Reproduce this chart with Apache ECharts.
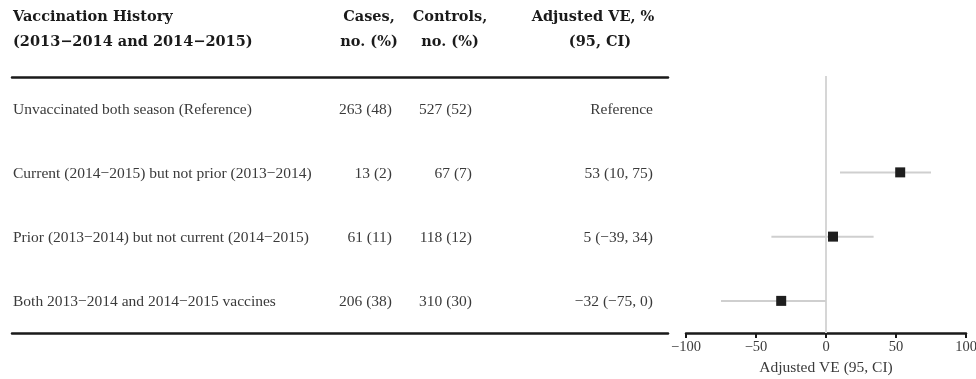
<!DOCTYPE html>
<html>
<head>
<meta charset="utf-8">
<script src="https://cdn.jsdelivr.net/npm/echarts@6/dist/echarts.min.js"></script>
<style>
  html, body { margin: 0; padding: 0; background: #fff; }
  #chart { width: 976px; height: 379px; }
</style>
</head>
<body>
<div id="chart"></div>
<script>
// Vaccination history groups (rows, top to bottom)
const groups = [
  'Unvaccinated both season (Reference)',
  'Current (2014\u22122015) but not prior (2013\u22122014)',
  'Prior (2013\u22122014) but not current (2014\u22122015)',
  'Both 2013\u22122014 and 2014\u22122015 vaccines'
];
const cases = [263, 13, 61, 206];
const casesPct = [48, 2, 11, 38];
const controls = [527, 67, 118, 310];
const controlsPct = [52, 7, 12, 30];
// Adjusted VE, % with 95% CI (null = reference group)
const ve = [null, 53, 5, -32];
const veLow = [null, 10, -39, -75];
const veHigh = [null, 75, 34, 0];
const xTicks = [-100, -50, 0, 50, 100];

const MINUS = '\u2212';
const fmt = v => (v < 0 ? MINUS + Math.abs(v) : String(v));

const bodyFont = '"Liberation Serif", "Times New Roman", serif';
const headFont = '"DejaVu Serif", serif';
const textColor = '#3a3a3a';
const ruleColor = '#1a1a1a';

// column anchors along the table's horizontal axis
const COL = { label: 1, cases: 380, controls: 460, ve: 641 };

function textColumn(x, texts, align) {
  return {
    type: 'scatter',
    xAxisIndex: 0, yAxisIndex: 0,
    symbolSize: 0,
    silent: true,
    itemStyle: { opacity: 1 },
    data: texts.map((t, i) => ({ value: [x, i], txt: t })),
    label: {
      show: true,
      position: align === 'left' ? 'right' : 'left',
      distance: 0,
      offset: [0, 1],
      formatter: p => p.data.txt,
      color: textColor,
      opacity: 1,
      fontFamily: bodyFont,
      fontSize: 15.5
    }
  };
}

const casesText = cases.map((c, i) => c + ' (' + casesPct[i] + ')');
const controlsText = controls.map((c, i) => c + ' (' + controlsPct[i] + ')');
const veText = ve.map((v, i) => v === null ? 'Reference'
  : fmt(v) + ' (' + fmt(veLow[i]) + ', ' + fmt(veHigh[i]) + ')');

const ciData = [];
const pointData = [];
ve.forEach((v, i) => {
  if (v !== null) {
    ciData.push([veLow[i], veHigh[i], i]);
    pointData.push([v, i]);
  }
});

const chart = echarts.init(document.getElementById('chart'));

const headStyle = (x, y, text, align) => ({
  type: 'text', x, y,
  style: {
    text, fill: '#1a1a1a', font: 'bold 14.5px ' + headFont,
    textAlign: align, textVerticalAlign: 'middle'
  }
});

chart.setOption({
  animation: false,
  backgroundColor: '#fff',
  grid: [
    { left: 12, right: 308, top: 77, bottom: 46, outerBoundsMode: 'none', containLabel: false },
    { left: 686, right: 10, top: 76, bottom: 46, outerBoundsMode: 'none', containLabel: false }
  ],
  xAxis: [
    {
      gridIndex: 0, type: 'value', min: 0, max: 656, position: 'bottom',
      axisLine: { show: true, lineStyle: { color: ruleColor, width: 2.5 } },
      axisTick: { show: false }, axisLabel: { show: false }, splitLine: { show: false }
    },
    {
      gridIndex: 0, type: 'value', min: 0, max: 656, position: 'top',
      axisLine: { show: true, onZero: false, lineStyle: { color: ruleColor, width: 2.5 } },
      axisTick: { show: false }, axisLabel: { show: false }, splitLine: { show: false }
    },
    {
      gridIndex: 1, type: 'value', min: xTicks[0], max: xTicks[xTicks.length - 1], interval: 50,
      axisLine: { show: true, onZero: false, lineStyle: { color: ruleColor, width: 2.5 } },
      axisTick: { show: true, length: 5, lineStyle: { color: ruleColor, width: 2 } },
      axisLabel: {
        color: textColor, fontFamily: bodyFont, fontSize: 14.5, margin: 7,
        formatter: v => fmt(v)
      },
      splitLine: { show: false },
      name: 'Adjusted VE (95, CI)',
      nameLocation: 'middle', nameGap: 25,
      nameTextStyle: { color: textColor, fontFamily: bodyFont, fontSize: 15.5 }
    }
  ],
  yAxis: [
    {
      gridIndex: 0, type: 'category', data: groups, inverse: true, show: false
    },
    {
      gridIndex: 1, type: 'category', data: groups, inverse: true, show: false
    }
  ],
  graphic: [
    headStyle(13, 17, 'Vaccination History', 'left'),
    headStyle(13, 42, '(2013\u22122014 and 2014\u22122015)', 'left'),
    headStyle(369, 17, 'Cases,', 'center'),
    headStyle(369, 42, 'no. (%)', 'center'),
    headStyle(450, 17, 'Controls,', 'center'),
    headStyle(450, 42, 'no. (%)', 'center'),
    headStyle(593, 17, 'Adjusted VE, %', 'center'),
    headStyle(600, 42, '(95, CI)', 'center')
  ],
  series: [
    textColumn(COL.label, groups, 'left'),
    textColumn(COL.cases, casesText, 'right'),
    textColumn(COL.controls, controlsText, 'right'),
    textColumn(COL.ve, veText, 'right'),
    {
      type: 'custom',
      xAxisIndex: 2, yAxisIndex: 1,
      silent: true,
      z: 2,
      data: ciData,
      encode: { x: [0, 1], y: 2 },
      renderItem: (params, api) => {
        const a = api.coord([api.value(0), api.value(2)]);
        const b = api.coord([api.value(1), api.value(2)]);
        return {
          type: 'line',
          shape: { x1: a[0], y1: a[1], x2: b[0], y2: b[1] },
          style: { stroke: '#cfcfcf', lineWidth: 2 }
        };
      }
    },
    {
      type: 'scatter',
      xAxisIndex: 2, yAxisIndex: 1,
      symbol: 'rect', symbolSize: 10,
      itemStyle: { color: '#1e1e1e', opacity: 1 },
      z: 3,
      data: pointData,
      markLine: {
        silent: true, symbol: 'none', z: 1,
        label: { show: false },
        lineStyle: { color: '#d6d6d6', width: 2, type: 'solid' },
        data: [{ xAxis: 0 }]
      }
    }
  ]
});
</script>
</body>
</html>
